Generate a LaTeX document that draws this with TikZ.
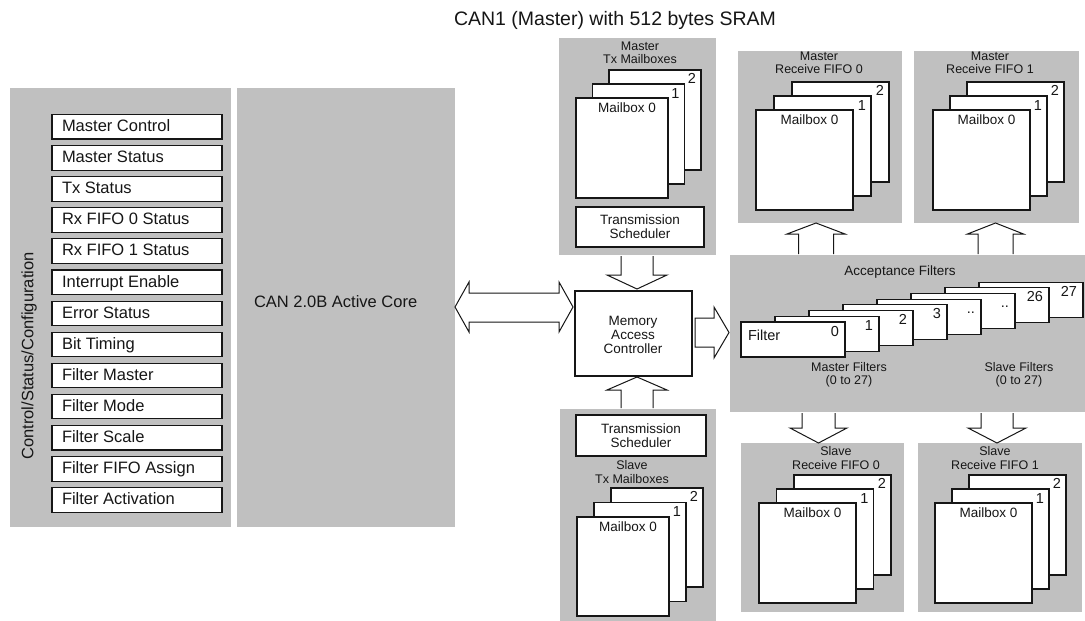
\documentclass[tikz,border=0pt]{standalone}
\usepackage{fontspec}
\setmainfont{Liberation Sans}
\usetikzlibrary{calc}
\definecolor{panelgrey}{RGB}{192,192,192}
\definecolor{ink}{RGB}{22,22,22}
\newcommand\fTitle{\fontsize{19.5}{22}\selectfont}
\newcommand\fReg{\fontsize{16.5}{18}\selectfont}
\newcommand\fLbl{\fontsize{13.5}{14}\selectfont}
\newcommand\fHead{\fontsize{12.5}{13.2}\selectfont}
\newcommand\fNum{\fontsize{14.5}{16}\selectfont}
\tikzset{
  panel/.style={fill=panelgrey, draw=none, inner sep=0pt, outer sep=0pt, anchor=north west},
  card/.style={fill=white, draw=ink, line width=1.1pt, inner sep=0pt, outer sep=0pt, anchor=north west},
  reg/.style={card, minimum width=170pt, minimum height=24.5pt},
  blk/.style={fill=white, draw=ink, line width=1pt, line join=miter},
  lbl/.style={text=ink, inner sep=0pt, outer sep=0pt, align=center},
  num/.style={lbl, font=\fNum},
}
% stack of three mailboxes: name, x, y (front top-left), w, h, dx, dy
\newcommand\mbstack[7]{%
  \node[card, minimum width=#4pt, minimum height=#5pt] (#1b) at ({#2+2*#6},{#3-2*#7}) {};
  \node[card, minimum width=#4pt, minimum height=#5pt] (#1m) at ({#2+#6},{#3-#7}) {};
  \node[card, minimum width=#4pt, minimum height=#5pt] (#1f) at (#2,#3) {};
  \node[num, anchor=base east] (#1nb) at ($(#1b.north east)+(-5,13)$) {2};
  \node[num, anchor=base east] (#1nm) at ($(#1m.north east)+(-5,14)$) {1};
  \node[lbl, font=\fLbl, anchor=base] (#1nf) at ($(#1f.north)+(5,14)$) {Mailbox 0};
}
% vertical block arrow: cx, tail y, head base y, tip y, stem half width, head half width
\newcommand\vblock[6]{%
  \draw[blk] ({#1-#5},#2) -- ({#1-#5},#3) -- ({#1-#6},#3) -- (#1,#4) -- ({#1+#6},#3) -- ({#1+#5},#3) -- ({#1+#5},#2);}
\begin{document}
\begin{tikzpicture}[x=1pt,y=-1pt]
\useasboundingbox (0,0) rectangle (1085,621);
\fill[white] (0,0) rectangle (1085,621);

% title
\node[lbl, font=\fTitle] (title) at (615,20) {CAN1 (Master) with 512 bytes SRAM};

% left panels
\node[panel, minimum width=221pt, minimum height=439pt] (ctl) at (10,88) {};
\node[panel, minimum width=218pt, minimum height=439pt] (core) at (237,88) {};
\node[lbl, font=\fReg, rotate=90] (ctltxt) at (29,356) {Control/Status/Configuration};
\node[lbl, font=\fReg, anchor=base west] (coretxt) at (254,307) {CAN 2.0B Active Core};

\foreach \i/\t in {0/Master Control, 1/Master Status, 2/Tx Status, 3/Rx FIFO 0 Status,
  4/Rx FIFO 1 Status, 5/Interrupt Enable, 6/Error Status, 7/Bit Timing, 8/Filter Master,
  9/Filter Mode, 10/Filter Scale, 11/Filter FIFO Assign, 12/Filter Activation}{
  \node[reg] (r\i) at (52,{114.5+31.1*\i}) {};
  \node[lbl, font=\fReg, anchor=base west] (rt\i) at ($(r\i.north west)+(10,17)$) {\t};
}

% master tx mailboxes
\node[panel, minimum width=157pt, minimum height=217pt] (mtx) at (559,38) {};
\node[lbl, font=\fHead] (mtxt) at (640,53) {Master\\Tx Mailboxes};
\mbstack{mtx}{576}{98}{92}{100}{16.5}{14}
\node[card, minimum width=128pt, minimum height=40pt] (msched) at (576,207) {};
\node[lbl, font=\fLbl] (mschedt) at (msched.center) {Transmission\\Scheduler};

% master receive fifos
\node[panel, minimum width=164pt, minimum height=172pt] (mrf0) at (738,51) {};
\node[lbl, font=\fHead] (mrf0t) at (819,63) {Master\\Receive FIFO 0};
\mbstack{mrfa}{756}{110}{97}{100}{18}{14}
\node[panel, minimum width=165pt, minimum height=172pt] (mrf1) at (914,51) {};
\node[lbl, font=\fHead] (mrf1t) at (990,63) {Master\\Receive FIFO 1};
\mbstack{mrfb}{933}{110}{97}{100}{17}{14}

% acceptance filters
\node[panel, minimum width=355pt, minimum height=157pt] (acc) at (730,255) {};
\node[lbl, font=\fLbl] (acct) at (900,272) {Acceptance Filters};
\foreach \i/\t in {7/27, 6/26, 5/.., 4/.., 3/3, 2/2, 1/1, 0/0}{
  \node[card, minimum width=104pt, minimum height=35pt] (f\i) at ({741+34*\i},{322-5.7*\i}) {};
  \node[num, anchor=base east] (fn\i) at ($(f\i.north east)+(-6,14)$) {\t};
}
\node[lbl, font=\fNum, anchor=base west] (filtt) at ($(f0.north west)+(7,18)$) {Filter};
\node[lbl, font=\fHead] (mfilt) at (849,375) {Master Filters\\(0 to 27)};
\node[lbl, font=\fHead] (sfilt) at (1019,375) {Slave Filters\\(0 to 27)};

% memory access controller
\node[card, minimum width=117pt, minimum height=85pt] (mac) at (575,291) {};
\node[lbl, font=\fLbl] (mact) at (633,335) {Memory\\Access\\Controller};

% slave tx mailboxes
\node[panel, minimum width=156pt, minimum height=212pt] (stx) at (560,409) {};
\node[card, minimum width=130pt, minimum height=41pt] (ssched) at (576,415) {};
\node[lbl, font=\fLbl] (sschedt) at (ssched.center) {Transmission\\Scheduler};
\node[lbl, font=\fHead] (stxt) at (632,472) {Slave\\Tx Mailboxes};
\mbstack{stx}{577}{517}{92}{99}{17}{14.5}

% slave receive fifos
\node[panel, minimum width=163pt, minimum height=169pt] (srf0) at (741,443) {};
\node[lbl, font=\fHead] (srf0t) at (836,458) {Slave\\Receive FIFO 0};
\mbstack{srfa}{759}{503}{97}{100}{17.5}{14}
\node[panel, minimum width=164pt, minimum height=169pt] (srf1) at (918,443) {};
\node[lbl, font=\fHead] (srf1t) at (995,458) {Slave\\Receive FIFO 1};
\mbstack{srfb}{935}{503}{97}{100}{17}{14}

% block arrows
\draw[blk] (469,282) -- (455,307) -- (469,332) -- (469,322) -- (559,322) -- (559,332)
  -- (573,307) -- (559,282) -- (559,293) -- (469,293) -- cycle;
\draw[blk] (695,318) -- (714,318) -- (714,307) -- (729,332.5) -- (714,358) -- (714,347)
  -- (695,347) -- cycle;
\vblock{816}{254}{234}{223}{17.5}{29}
\vblock{995.5}{254}{234}{223}{17.5}{28}
\vblock{637}{256}{275}{289}{16}{30}
\vblock{637}{408}{390}{377}{16}{30}
\vblock{818.5}{413}{428}{443}{16.5}{28.5}
\vblock{997}{413}{428}{443}{16}{29}
\end{tikzpicture}
\end{document}
